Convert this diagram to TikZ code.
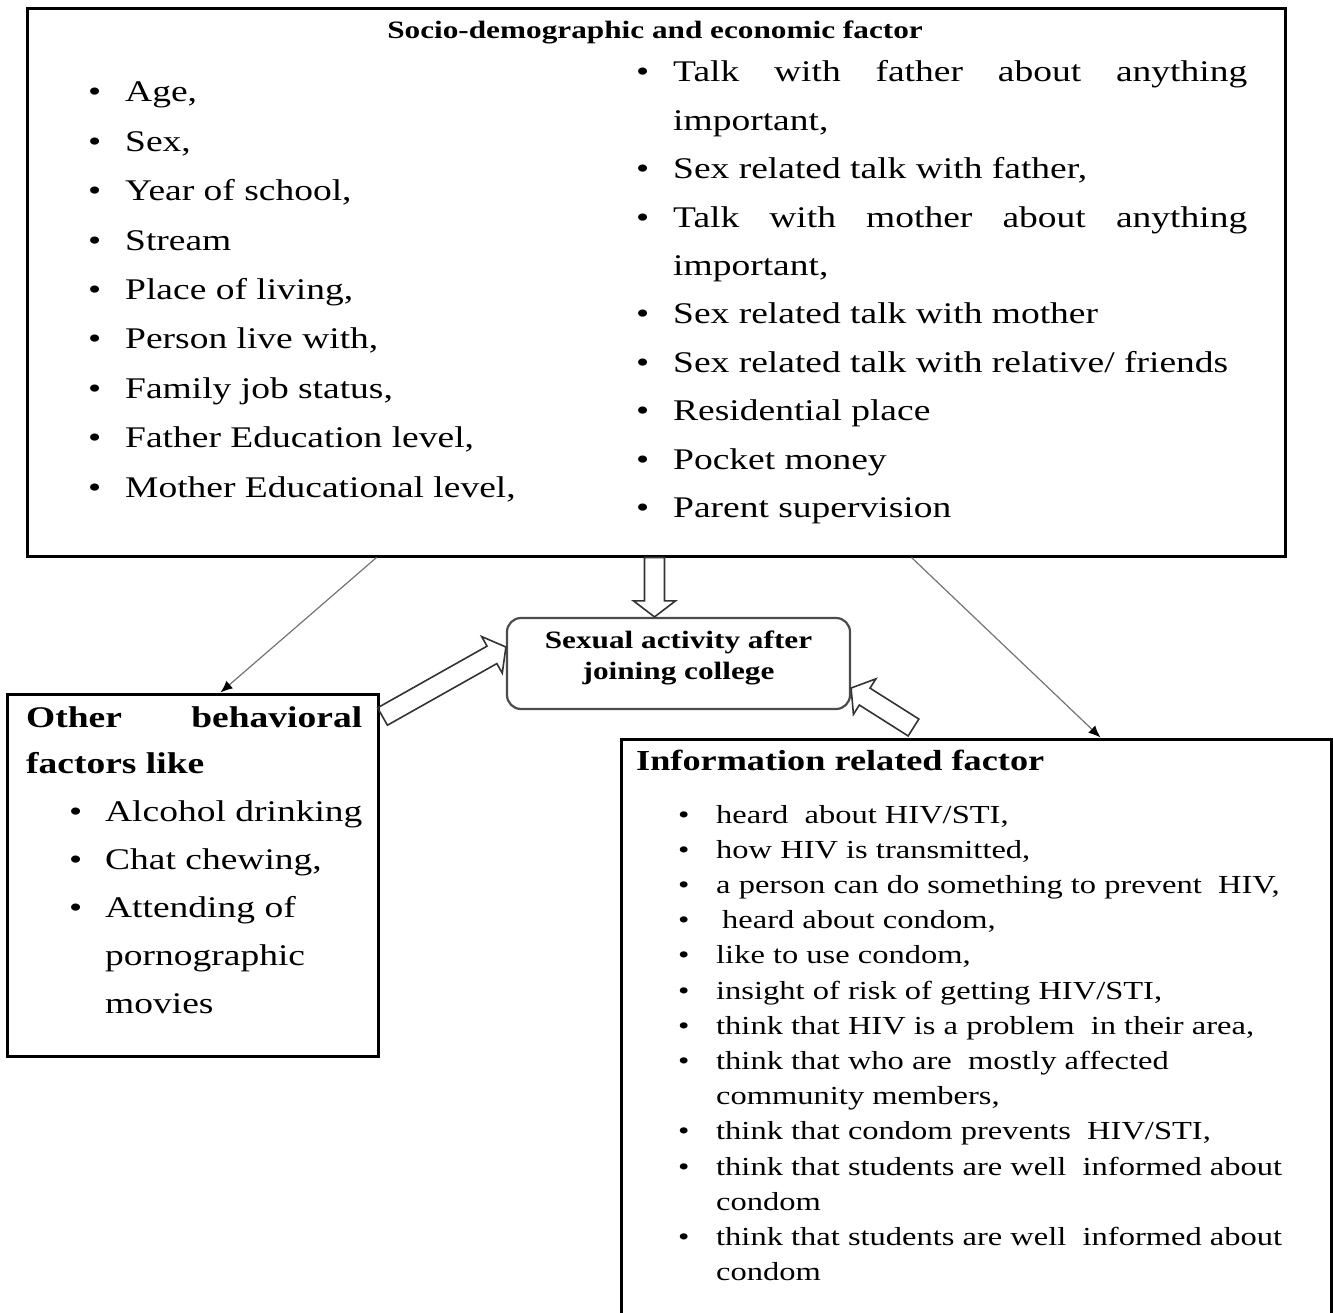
\documentclass[tikz,border=0pt]{standalone}
\usepackage{fontspec}
\setmainfont[FakeStretch=1.25]{Liberation Serif}
\usepackage{tikz}
\usetikzlibrary{arrows.meta, calc}
\tikzset{
  riquadro/.style={draw, line width=3pt, inner sep=0pt},
  testo/.style={inner sep=0pt},
  attivita/.style={draw=black!70, line width=2.2pt, rounded corners=14pt, inner sep=0pt, minimum width=343pt, minimum height=91pt},
  freccinaGrigia/.style={draw=black!55, line width=1.2pt, -{Latex[length=12pt, width=10pt, black]}},
  frecciaBlocco/.style={draw=black!80, line width=1.6pt, line join=miter},
}
% voce di un elenco puntato
\newcommand{\voce}[2][37pt]{\hangindent=#1\hangafter=1\noindent\makebox[#1][l]{\textbullet}#2\par}
% freccia piena da #1 a #2
\newcommand{\frecciaPiena}[2]{%
  \draw[frecciaBlocco] let \p1 = ($(#2)-(#1)$), \n1 = {atan2(\y1,\x1)}, \n2 = {veclen(\x1,\y1)} in
    ($(#1)+(\n1+90:10pt)$) -- ($(#1)+(\n1:\n2-16pt)+(\n1+90:10pt)$) -- ($(#1)+(\n1:\n2-16pt)+(\n1+90:21pt)$) -- (#2)
    -- ($(#1)+(\n1:\n2-16pt)+(\n1-90:21pt)$) -- ($(#1)+(\n1:\n2-16pt)+(\n1-90:10pt)$) -- ($(#1)+(\n1-90:10pt)$) -- cycle;
}

\begin{document}
\begin{tikzpicture}[x=1pt, y=-1pt]
    % area del disegno
    \useasboundingbox (0,0) rectangle (1333,1313);
    \clip (0,0) rectangle (1333,1313);
    % Riquadri
    \node[riquadro, minimum width=1258pt, minimum height=547pt] (socio) at (656,282.5) {};
    \node[riquadro, minimum width=371pt, minimum height=362pt] (altri) at (192.5,875) {};
    \node[riquadro, minimum width=710pt, minimum height=601pt] (info) at (976,1039.5) {};
    \node[attivita] (attivita) at (678.5,663.5) {};
    % Fattori socio-demografici
    \node[testo, anchor=base, font=\bfseries\fontsize{25}{30}\selectfont] (titoloSocio) at (655,39) {Socio-demographic and economic factor};
    \node[testo, align=justify, text width=450pt, anchor=base west, font=\fontsize{30}{49.4}\selectfont] (listaSocioA) at (88,102) {%
        \voce{Age,}\voce{Sex,}\voce{Year of school,}\voce{Stream}\voce{Place of living,}%
        \voce{Person live with,}\voce{Family job status,}\voce{Father Education level,}%
        \voce{Mother Educational level,}};
    \node[testo, align=justify, text width=611pt, anchor=base west, font=\fontsize{30}{48.4}\selectfont] (listaSocioB) at (636,82) {%
        \voce{Talk with father about anything\linebreak important,}%
        \voce{Sex related talk with father,}%
        \voce{Talk with mother about anything\linebreak important,}%
        \voce{Sex related talk with mother}%
        \voce{Sex related talk with relative/ friends}%
        \voce{Residential place}\voce{Pocket money}\voce{Parent supervision}};
    % Attivita' sessuale
    \node[testo, align=center, font=\bfseries\fontsize{25}{31}\selectfont] (attivitaTesto) at ([yshift=6pt]attivita.center) {Sexual activity after\\joining college};
    % Altri fattori
    \node[testo, align=justify, text width=336pt, anchor=base west, font=\bfseries\fontsize{30}{46}\selectfont] (titoloAltri) at (26,727) {Other behavioral\linebreak factors like};
    \node[testo, align=justify, text width=300pt, anchor=base west, font=\fontsize{30}{48}\selectfont] (listaAltri) at (69,821) {%
        \voce[36pt]{Alcohol drinking}\voce[36pt]{Chat chewing,}%
        \voce[36pt]{Attending of\newline pornographic\newline movies}};
    % Informazione
    \node[testo, anchor=base west, font=\bfseries\fontsize{29}{35}\selectfont] (titoloInfo) at (636,770) {Information related factor};
    \node[testo, align=justify, text width=612pt, anchor=base west, font=\fontsize{26}{35.2}\selectfont] (listaInfo) at (678,823) {%
        \voce[38pt]{heard\ \ about HIV/STI,}%
        \voce[38pt]{how HIV is transmitted,}%
        \voce[38pt]{a person can do something to prevent\ \ HIV,}%
        \voce[38pt]{\hspace{6pt}heard about condom,}%
        \voce[38pt]{like to use condom,}%
        \voce[38pt]{insight of risk of getting HIV/STI,}%
        \voce[38pt]{think that HIV is a problem\ \ in their area,}%
        \voce[38pt]{think that who are\ \ mostly affected\newline community members,}%
        \voce[38pt]{think that condom prevents\ \ HIV/STI,}%
        \voce[38pt]{think that students are well\ \ informed about\newline condom}%
        \voce[38pt]{think that students are well\ \ informed about\newline condom}};
    % frecce sottili
    \coordinate (socioSx) at ([xshift=351pt]socio.south west);
    \coordinate (altriSu) at ([xshift=215pt]altri.north west);
    \coordinate (socioDx) at ([xshift=886pt]socio.south west);
    \coordinate (infoSu) at ([xshift=481pt]info.north west);
    \draw[freccinaGrigia] (socioSx) -- (altriSu);
    \draw[freccinaGrigia] (socioDx) -- (infoSu);
    % frecce piene
    \coordinate (punta) at ([xshift=-24pt]attivita.north);
    \coordinate (coda) at (punta |- socio.south);
    \frecciaPiena{coda}{punta}
    \coordinate (altriDx) at ([xshift=3pt, yshift=-24pt]altri.north east);
    \coordinate (attivitaSx) at ([yshift=16.5pt]attivita.west);
    \frecciaPiena{altriDx}{attivitaSx}
    \coordinate (infoCoda) at ([xshift=294pt, yshift=10pt]info.north west);
    \coordinate (attivitaDx) at ([yshift=-24.5pt]attivita.east);
    \frecciaPiena{infoCoda}{attivitaDx}
\end{tikzpicture}
\end{document}
